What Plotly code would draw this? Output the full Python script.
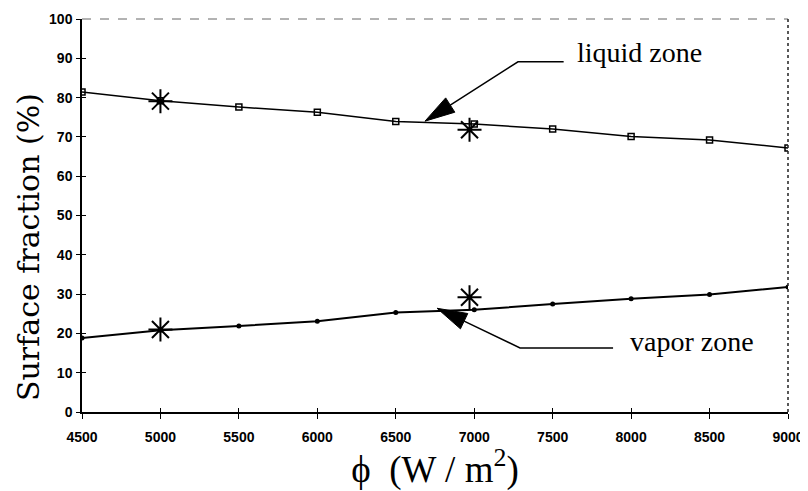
import math
import plotly.graph_objects as go

# Data
heat_flux = [4500, 5000, 5500, 6000, 6500, 7000, 7500, 8000, 8500, 9000]
liquid_fraction = [81.4, 79.2, 77.6, 76.3, 73.9, 73.3, 72.0, 70.1, 69.2, 67.2]
vapor_fraction = [18.8, 20.8, 21.9, 23.1, 25.3, 26.0, 27.5, 28.8, 29.9, 31.8]

# Measured points (asterisks)
meas_flux = [5000, 6970]
meas_liquid = [79.1, 71.8]
meas_vapor = [21.0, 29.2]

x_ticks = [4500, 5000, 5500, 6000, 6500, 7000, 7500, 8000, 8500, 9000]
y_ticks = [0, 10, 20, 30, 40, 50, 60, 70, 80, 90, 100]

# layout geometry (page body has an 8px margin, so the figure is 8px smaller)
OFF = 8
W, H = 800, 483
ML, MR, MT, MB = 74, 20, 11, 79
PW, PH = W - ML - MR, H - MT - MB
XR = [4500, 9000]
YR = [0, 100]


def to_px(x, y):
    return (ML + (x - XR[0]) / (XR[1] - XR[0]) * PW,
            MT + PH - (y - YR[0]) / (YR[1] - YR[0]) * PH)


def to_data(px, py):
    return (XR[0] + (px - ML) / PW * (XR[1] - XR[0]),
            YR[0] + (MT + PH - py) / PH * (YR[1] - YR[0]))


def screen_to_paper(sx, sy):
    return ((sx - OFF - ML) / PW, (MT + PH - (sy - OFF)) / PH)


fig = go.Figure()

fig.add_trace(go.Scatter(
    x=heat_flux, y=liquid_fraction, mode="lines+markers",
    line=dict(color="black", width=1.5),
    marker=dict(symbol="square-open", size=6, color="black", line=dict(width=1.5)),
    showlegend=False))
fig.add_trace(go.Scatter(
    x=heat_flux, y=vapor_fraction, mode="lines+markers",
    line=dict(color="black", width=2),
    marker=dict(symbol="circle", size=5, color="black"),
    showlegend=False))
fig.add_trace(go.Scatter(
    x=meas_flux, y=meas_liquid, mode="markers",
    marker=dict(symbol="asterisk-open", size=20, color="black",
                line=dict(color="black", width=2)),
    showlegend=False))
fig.add_trace(go.Scatter(
    x=meas_flux, y=meas_vapor, mode="markers",
    marker=dict(symbol="asterisk-open", size=20, color="black",
                line=dict(color="black", width=2)),
    showlegend=False))
# invisible trace to activate the overlay axes (inner tick marks)
fig.add_trace(go.Scatter(x=[x_ticks[0]], y=[y_ticks[0]], xaxis="x2", yaxis="y2",
                         mode="markers", marker=dict(opacity=0),
                         showlegend=False, hoverinfo="skip"))

tick_font = dict(family="Liberation Sans, Arial", size=14, color="black", weight="bold")
xtitle_font = dict(family="Liberation Serif, Times New Roman", size=37, color="black")
ytitle_font = dict(family="DejaVu Serif", size=30, color="black")

fig.update_layout(
    width=W, height=H,
    margin=dict(l=ML, r=MR, t=MT, b=MB, autoexpand=False),
    paper_bgcolor="white", plot_bgcolor="white",
    xaxis=dict(range=XR, tickvals=x_ticks, ticktext=[str(v) for v in x_ticks],
               showgrid=False, zeroline=False, showline=True, linecolor="black", linewidth=1.5,
               ticks="outside", ticklen=5, tickwidth=1, tickcolor="black",
               tickfont=tick_font, ticklabelstandoff=6, automargin=False,
               title=dict(text="\u03d5  (W / m<sup>2</sup>)", font=xtitle_font, standoff=1)),
    yaxis=dict(range=YR, tickvals=y_ticks,
               showgrid=False, zeroline=False, showline=True, linecolor="black", linewidth=1.5,
               ticks="outside", ticklen=4, tickwidth=1, tickcolor="black",
               tickfont=tick_font, ticklabelstandoff=1, automargin=False),
    xaxis2=dict(overlaying="x", matches="x", range=XR, tickvals=x_ticks,
                showticklabels=False, showgrid=False, zeroline=False, showline=False,
                ticks="inside", ticklen=4, tickwidth=1, tickcolor="black", automargin=False),
    yaxis2=dict(overlaying="y", matches="y", range=YR, tickvals=y_ticks,
                showticklabels=False, showgrid=False, zeroline=False, showline=False,
                ticks="inside", ticklen=4, tickwidth=1, tickcolor="black", automargin=False),
)

# y axis title (sits lower than the plot centre in the original)
ytx, yty = screen_to_paper(28, 247)
fig.add_annotation(xref="paper", yref="paper", x=ytx, y=yty, text="Surface fraction (%)",
                   textangle=-90, showarrow=False, xanchor="center", yanchor="middle",
                   font=ytitle_font)

# top and right frame (dashed, as in the scan)
fig.add_shape(type="line", xref="paper", yref="paper", x0=0, x1=1, y0=1, y1=1,
              line=dict(color="#666666", width=1, dash="dash"))
fig.add_shape(type="line", xref="paper", yref="paper", x0=1, x1=1, y0=0, y1=1,
              line=dict(color="#222222", width=1.5, dash="dot"))

label_font = dict(family="Liberation Serif, Times New Roman", size=28, color="black")


def callout(tip, elbow, end, head_len=30, head_w=17):
    tx, ty = to_px(*tip)
    ex, ey = to_px(*elbow)
    dx, dy = ex - tx, ey - ty
    n = math.hypot(dx, dy)
    ux, uy = dx / n, dy / n
    bx, by = tx + ux * head_len, ty + uy * head_len
    p1 = to_data(bx - uy * head_w / 2, by + ux * head_w / 2)
    p2 = to_data(bx + uy * head_w / 2, by - ux * head_w / 2)
    fig.add_shape(type="path",
                  path=f"M {tip[0]},{tip[1]} L {p1[0]},{p1[1]} L {p2[0]},{p2[1]} Z",
                  fillcolor="black", line=dict(color="black", width=1))
    bd = to_data(bx, by)
    fig.add_shape(type="path",
                  path=f"M {bd[0]},{bd[1]} L {elbow[0]},{elbow[1]} L {end[0]},{end[1]}",
                  line=dict(color="black", width=1.5))


# liquid zone callout
callout((6686, 74.0), (7279, 89.1), (7570, 89.1))
fig.add_annotation(x=7640, y=91.5, text="liquid zone", showarrow=False,
                   xanchor="left", yanchor="middle", font=label_font)

# vapor zone callout
callout((6763, 26.4), (7292, 16.3), (7885, 16.3))
fig.add_annotation(x=7980, y=17.9, text="vapor zone", showarrow=False,
                   xanchor="left", yanchor="middle", font=label_font)

fig.write_html("out.html")
